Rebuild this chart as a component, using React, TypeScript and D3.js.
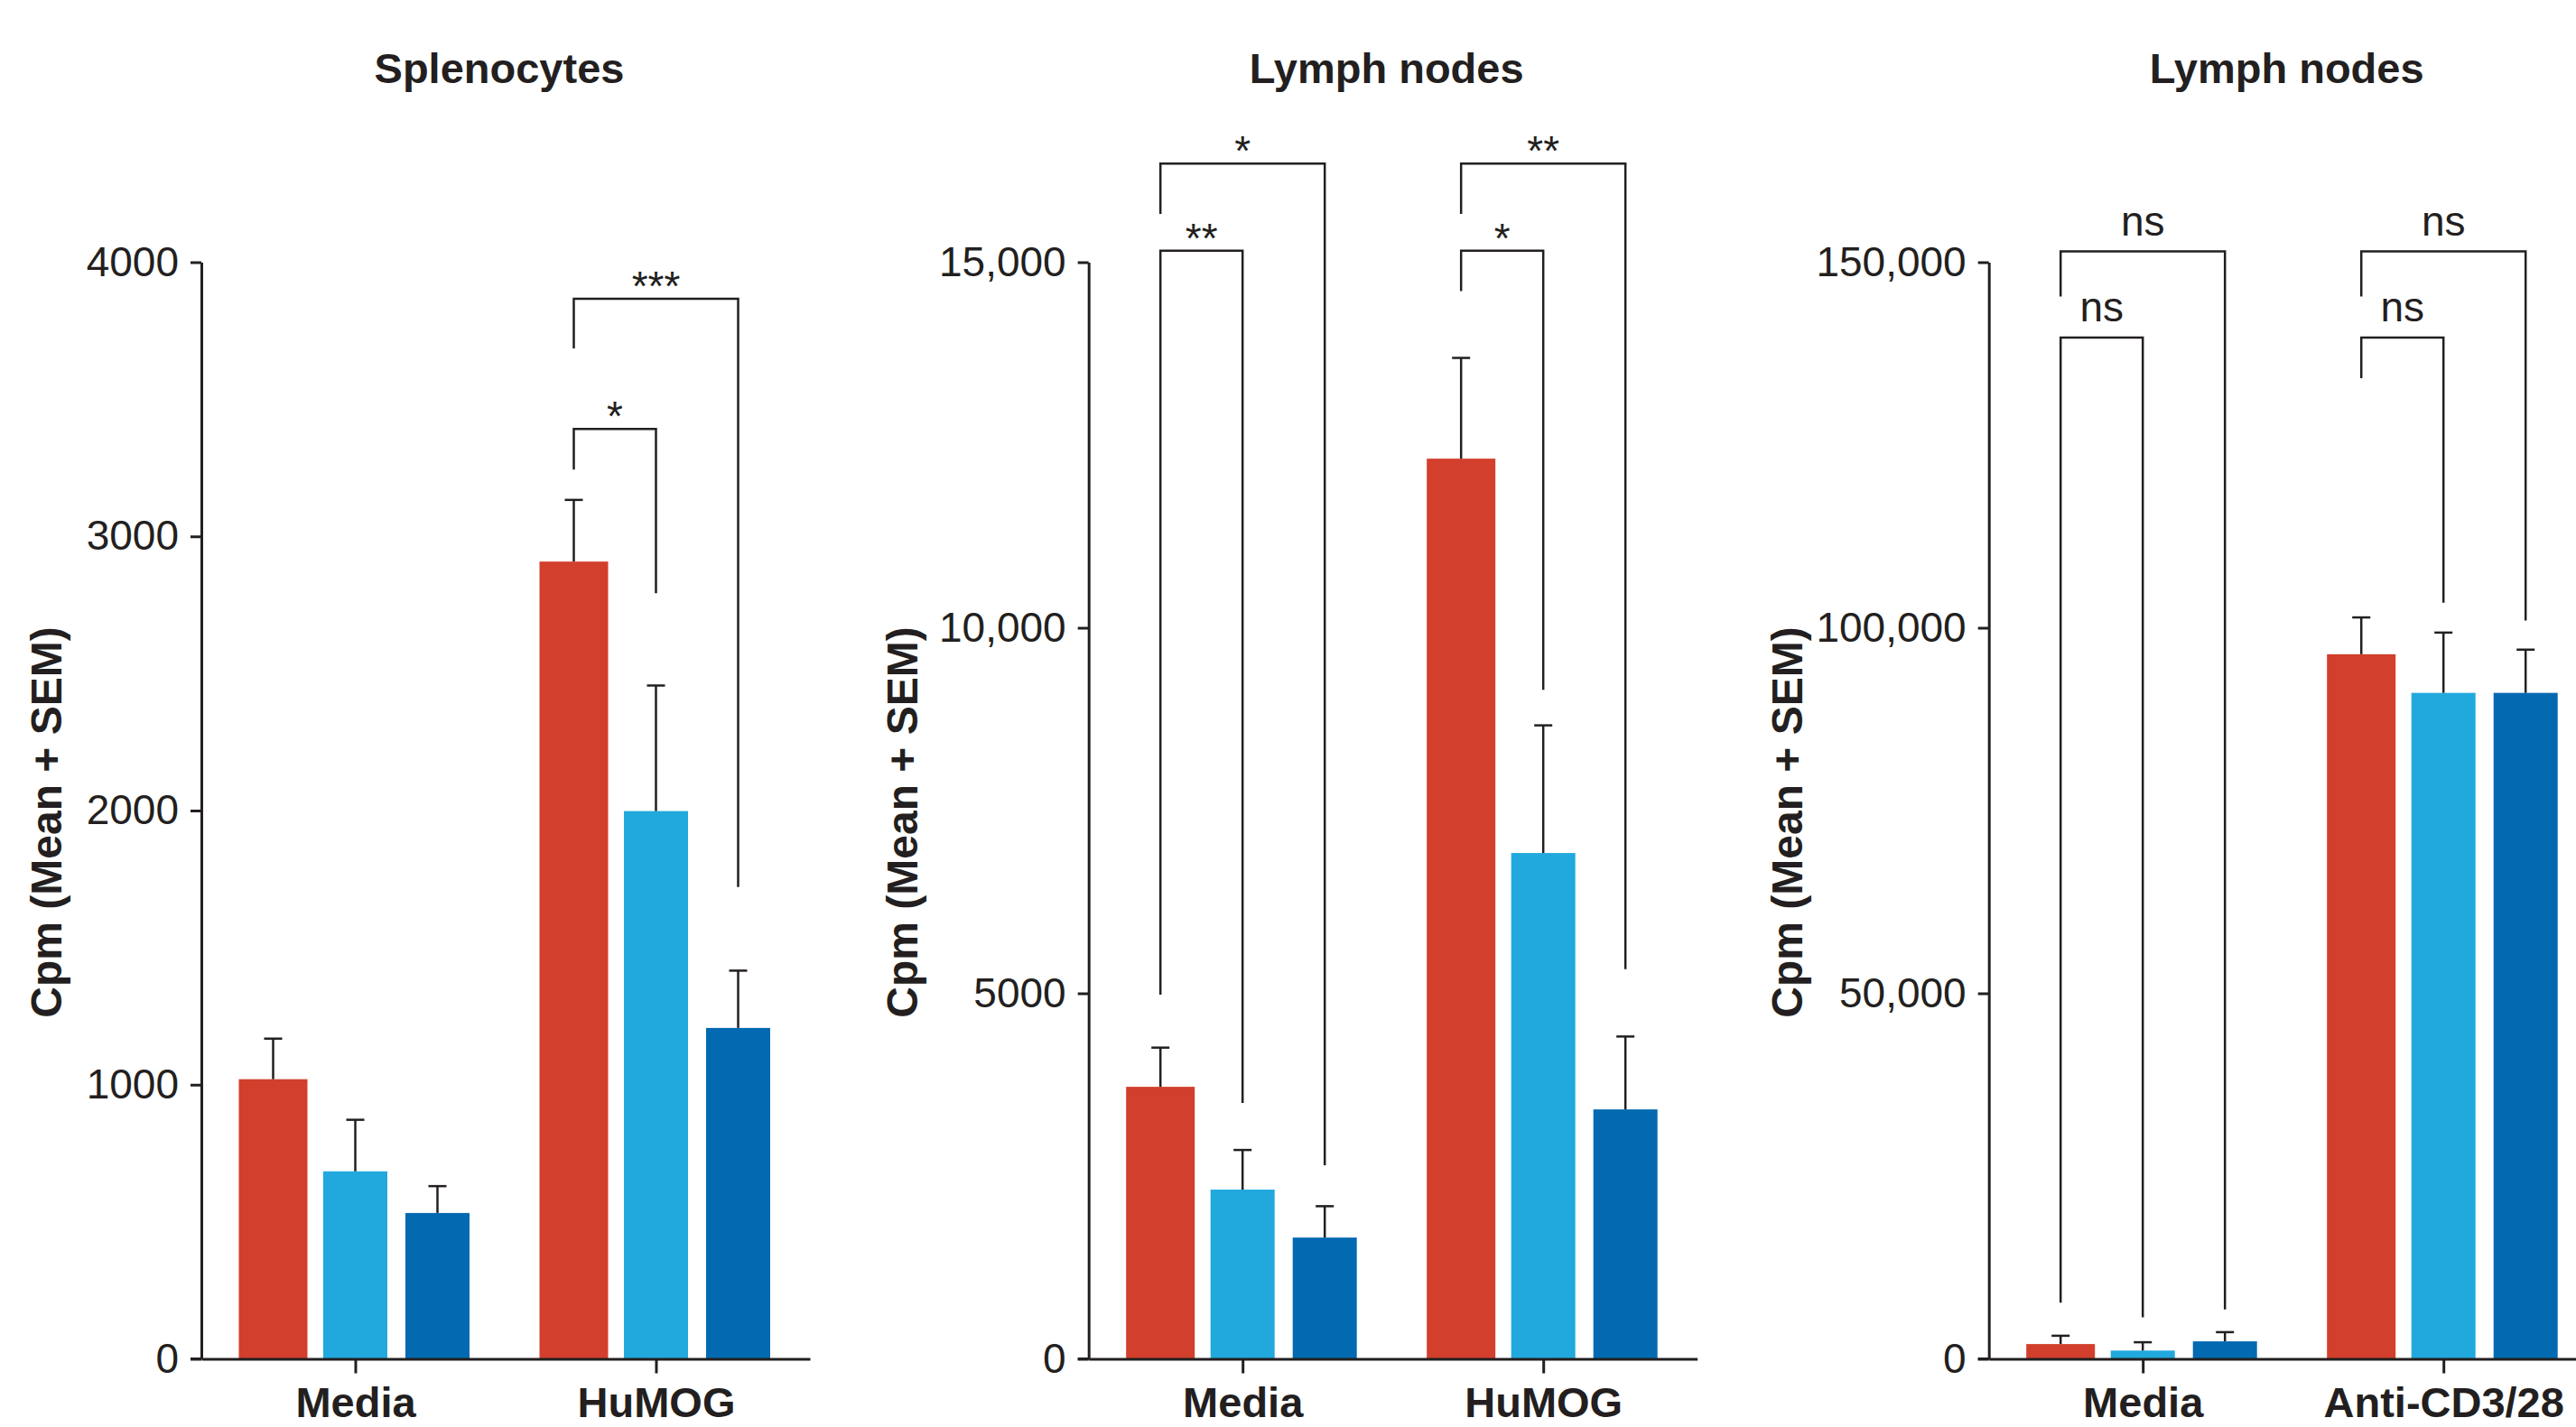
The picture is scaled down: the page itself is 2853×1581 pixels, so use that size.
import React, { useRef, useEffect } from "react";
import * as d3 from "d3";

// bar colours, one per series (no legend in the figure)
const seriesColors = ["#d23f2c", "#21a9de", "#036ab1"];
const seriesWidths = [76, 71, 71];

// panel 1: splenocytes
const splenoTitle = "Splenocytes";
const splenoCats = ["Media", "HuMOG"];
const splenoMean = [
	[1020, 684, 532],
	[2908, 1998, 1207],
];
const splenoSem = [
	[148, 188, 98],
	[225, 458, 209],
];
const splenoTicks = [0, 1000, 2000, 3000, 4000];
const splenoTickLabels = ["0", "1000", "2000", "3000", "4000"];
const splenoBrackets = [
	{ group: 1, from: 0, to: 1, top: 3392, leftEnd: 3244, rightEnd: 2793, label: "*" },
	{ group: 1, from: 0, to: 2, top: 3867, leftEnd: 3686, rightEnd: 1721, label: "***" },
];

// panel 2: lymph nodes, HuMOG
const lymphTitle = "Lymph nodes";
const lymphCats = ["Media", "HuMOG"];
const lymphMean = [
	[3721, 2315, 1659],
	[12313, 6919, 3412],
];
const lymphSem = [
	[536, 542, 429],
	[1378, 1746, 997],
];
const lymphTicks = [0, 5000, 10000, 15000];
const lymphTickLabels = ["0", "5000", "10,000", "15,000"];
const lymphBrackets = [
	{ group: 0, from: 0, to: 1, top: 15158, leftEnd: 4983, rightEnd: 3500, label: "**" },
	{ group: 0, from: 0, to: 2, top: 16348, leftEnd: 15659, rightEnd: 2649, label: "*" },
	{ group: 1, from: 0, to: 1, top: 15158, leftEnd: 14605, rightEnd: 9152, label: "*" },
	{ group: 1, from: 0, to: 2, top: 16348, leftEnd: 15659, rightEnd: 5330, label: "**" },
];

// panel 3: lymph nodes, anti-CD3/28
const cd3Title = "Lymph nodes";
const cd3Cats = ["Media", "Anti-CD3/28"];
const cd3Mean = [
	[2024, 1135, 2394],
	[96376, 91093, 91093],
];
const cd3Sem = [
	[1136, 1136, 1259],
	[5037, 8245, 5911],
];
const cd3Ticks = [0, 50000, 100000, 150000];
const cd3TickLabels = ["0", "50,000", "100,000", "150,000"];
const cd3Brackets = [
	{ group: 0, from: 0, to: 1, top: 139700, leftEnd: 7700, rightEnd: 5680, label: "ns" },
	{ group: 0, from: 0, to: 2, top: 151480, leftEnd: 145310, rightEnd: 6750, label: "ns" },
	{ group: 1, from: 0, to: 1, top: 139700, leftEnd: 134150, rightEnd: 103430, label: "ns" },
	{ group: 1, from: 0, to: 2, top: 151480, leftEnd: 145310, rightEnd: 100980, label: "ns" },
];

const yLabel = "Cpm (Mean + SEM)";

const panels = [
	{ title: splenoTitle, cats: splenoCats, mean: splenoMean, sem: splenoSem, ticks: splenoTicks, tickLabels: splenoTickLabels, brackets: splenoBrackets, x0: 223, labelX: 68 },
	{ title: lymphTitle, cats: lymphCats, mean: lymphMean, sem: lymphSem, ticks: lymphTicks, tickLabels: lymphTickLabels, brackets: lymphBrackets, x0: 1205.7, labelX: 1016 },
	{ title: cd3Title, cats: cd3Cats, mean: cd3Mean, sem: cd3Sem, ticks: cd3Ticks, tickLabels: cd3TickLabels, brackets: cd3Brackets, x0: 2202.7, labelX: 1996 },
];

const App = () => {
	const ref = useRef(null);
	const width = 2853;
	const height = 1581;
	const font = "'Liberation Sans', Arial, Helvetica, sans-serif";
	const ink = "#231f20";

	useEffect(() => {
		document.body.style.margin = "0";
		document.body.style.overflow = "hidden";
		const svg = d3.select(ref.current);
		svg.selectAll("*").remove();

		const yBottom = 1505.5;
		const yTopPx = 290.5;
		const axisLen = 674;

		panels.forEach((p) => {
			const g = svg.append("g");
			const yMax = p.ticks[p.ticks.length - 1];
			const y = d3.scaleLinear().domain([0, yMax]).range([yBottom, yTopPx]);
			const x = d3
				.scalePoint()
				.domain(p.cats)
				.range([p.x0, p.x0 + axisLen])
				.padding(0.512);
			const xs = d3.scalePoint().domain([0, 1, 2]).range([-91, 91]);
			const cx = (gi, si) => x(p.cats[gi]) + xs(si);

			// bars
			p.mean.forEach((row, gi) => {
				row.forEach((v, si) => {
					g.append("rect")
						.attr("x", cx(gi, si) - seriesWidths[si] / 2)
						.attr("y", y(v))
						.attr("width", seriesWidths[si])
						.attr("height", y(0) - y(v))
						.attr("fill", seriesColors[si]);
					// error bar, upper only
					const top = y(v + p.sem[gi][si]);
					g.append("line")
						.attr("x1", cx(gi, si))
						.attr("x2", cx(gi, si))
						.attr("y1", y(v))
						.attr("y2", top)
						.attr("stroke", ink)
						.attr("stroke-width", 2.5);
					g.append("line")
						.attr("x1", cx(gi, si) - 10)
						.attr("x2", cx(gi, si) + 10)
						.attr("y1", top)
						.attr("y2", top)
						.attr("stroke", ink)
						.attr("stroke-width", 2.5);
				});
			});

			// y axis
			const yAxis = d3
				.axisLeft(y)
				.tickValues(p.ticks)
				.tickFormat((d, i) => p.tickLabels[i])
				.tickSize(12)
				.tickSizeOuter(0)
				.tickPadding(13);
			const ya = g
				.append("g")
				.attr("transform", `translate(${p.x0},0)`)
				.call(yAxis);
			ya.select(".domain").attr("stroke", ink).attr("stroke-width", 3);
			ya.selectAll(".tick line").attr("stroke", ink).attr("stroke-width", 3);
			ya.selectAll(".tick text")
				.attr("fill", ink)
				.style("font-family", font)
				.style("font-size", "46px");

			// x axis
			const xa = g
				.append("g")
				.attr("transform", `translate(0,${yBottom})`)
				.call(d3.axisBottom(x).tickSize(16).tickSizeOuter(0));
			xa.select(".domain").attr("stroke", ink).attr("stroke-width", 3);
			xa.selectAll(".tick line").attr("stroke", ink).attr("stroke-width", 3);
			// category labels sit just above the bottom edge
			xa.selectAll(".tick text")
				.attr("y", 64)
				.attr("dy", null)
				.attr("fill", ink)
				.style("font-family", font)
				.style("font-size", "47px")
				.style("font-weight", "bold");
			// stub left of the y axis
			xa.append("line")
				.attr("x1", p.x0 - 12)
				.attr("x2", p.x0)
				.attr("stroke", ink)
				.attr("stroke-width", 3);

			// significance brackets
			p.brackets.forEach((b) => {
				const xl = cx(b.group, b.from);
				const xr = cx(b.group, b.to);
				g.append("path")
					.attr(
						"d",
						`M${xl},${y(b.leftEnd)}V${y(b.top)}H${xr}V${y(b.rightEnd)}`
					)
					.attr("fill", "none")
					.attr("stroke", ink)
					.attr("stroke-width", 2.5);
				g.append("text")
					.attr("x", (xl + xr) / 2)
					.attr("y", y(b.top) + (b.label === "ns" ? -18 : 2))
					.attr("text-anchor", "middle")
					.attr("fill", ink)
					.style("font-family", font)
					.style("font-size", "46px")
					.text(b.label);
			});

			// title
			g.append("text")
				.attr("x", p.x0 + 330)
				.attr("y", 92)
				.attr("text-anchor", "middle")
				.attr("fill", ink)
				.style("font-family", font)
				.style("font-size", "47px")
				.style("font-weight", "bold")
				.text(p.title);

			// y label
			g.append("text")
				.attr("transform", `translate(${p.labelX},911) rotate(-90)`)
				.attr("text-anchor", "middle")
				.attr("fill", ink)
				.style("font-family", font)
				.style("font-size", "48px")
				.style("font-weight", "bold")
				.text(yLabel);
		});
	}, []);

	return (
		<svg
			ref={ref}
			width={width}
			height={height}
			style={{ position: "absolute", left: 0, top: 0, background: "#fff" }}
		/>
	);
};

export default App;
